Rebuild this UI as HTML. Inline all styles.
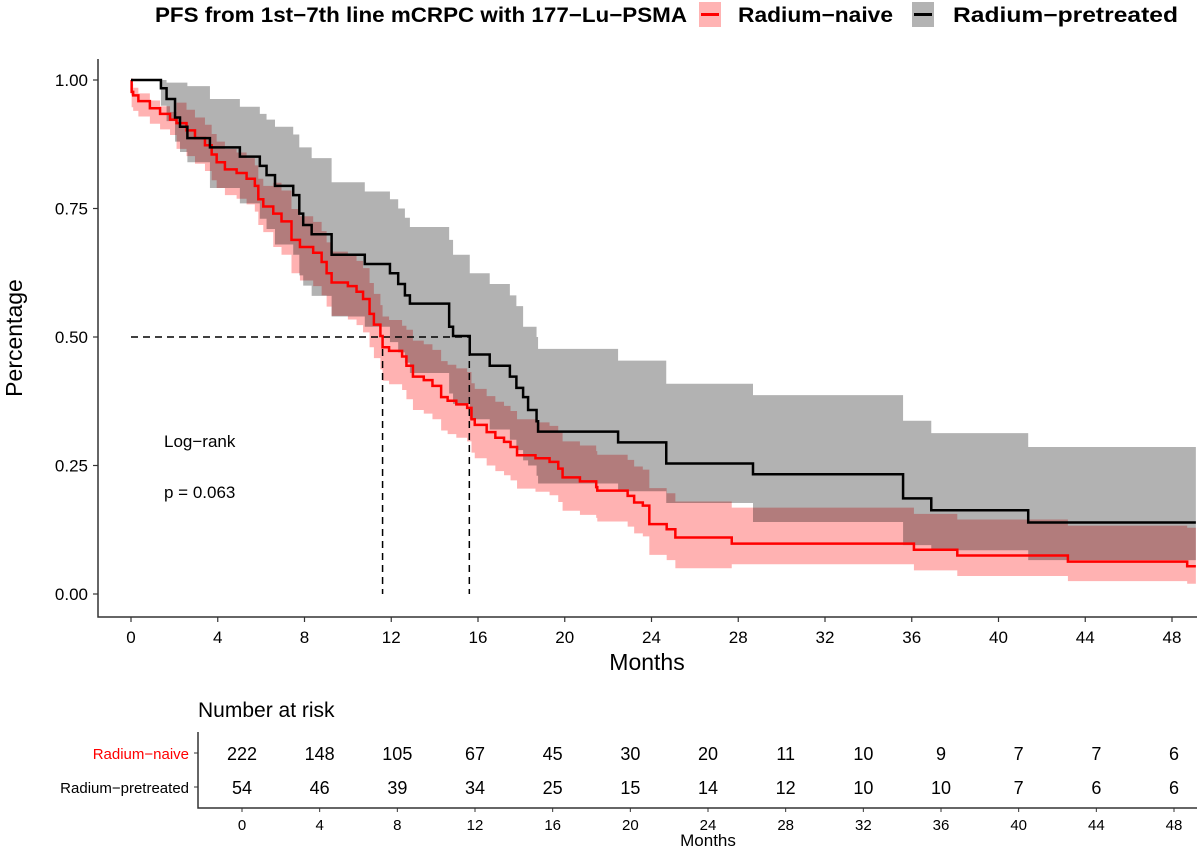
<!DOCTYPE html>
<html><head><meta charset="utf-8"><style>
body{margin:0;background:#fff}
svg{display:block;font-family:"Liberation Sans",sans-serif}
</style></head><body>
<svg id="chart" width="1200" height="851" viewBox="0 0 1200 851" xmlns="http://www.w3.org/2000/svg">
<g>
<text x="155" y="22" font-size="21" font-weight="bold" textLength="532" lengthAdjust="spacingAndGlyphs">PFS from 1st−7th line mCRPC with 177−Lu−PSMA</text>
<g><rect x="699" y="2" width="22" height="25" fill="#ffb3b3"/><line x1="701" y1="14.5" x2="719" y2="14.5" stroke="#f00" stroke-width="3"/>
<text x="738" y="22" font-size="21" font-weight="bold" textLength="155" lengthAdjust="spacingAndGlyphs">Radium−naive</text></g>
<g><rect x="912" y="2" width="22" height="25" fill="#b3b3b3"/><line x1="914" y1="14.5" x2="932" y2="14.5" stroke="#000" stroke-width="3"/>
<text x="953" y="22" font-size="21" font-weight="bold" textLength="225" lengthAdjust="spacingAndGlyphs">Radium−pretreated</text></g>
</g>
<g id="plot"></g>
<g id="axes"></g>
<text x="22" y="338" font-size="23" text-anchor="middle" transform="rotate(-90 22 338)">Percentage</text>
<text x="647" y="670" font-size="23" text-anchor="middle">Months</text>
<text x="164" y="447" font-size="17">Log−rank</text>
<text x="164" y="498" font-size="17">p = 0.063</text>
<text x="198" y="717" font-size="21">Number at risk</text>
<g id="risk"></g>
<text x="708" y="846" font-size="17" text-anchor="middle">Months</text>
</svg>
<script>
const ticksX = [0,4,8,12,16,20,24,28,32,36,40,44,48];
const ticksY = [0,0.25,0.5,0.75,1.0];
const tickYLabels = ["0.00","0.25","0.50","0.75","1.00"];
const naiveTimes = [0,0.03,0.1,0.34,0.87,1.34,1.8,2.1,2.56,2.95,3.41,3.72,3.95,4.33,4.87,5.33,5.71,5.87,6.1,6.56,6.94,7.4,7.79,8.4,8.79,9.02,9.25,10.0,10.4,10.7,11.0,11.2,11.5,11.6,11.9,12.5,12.7,13.0,13.5,13.9,14.3,14.6,15.0,15.5,15.7,15.85,16.4,16.8,17.2,17.5,17.8,18.65,19.3,19.7,19.9,20.7,21.45,21.5,22.9,23.2,23.6,23.9,24.7,25.1,27.7,36.1,38.1,43.2,48.7];
const naiveSurv = [1.0,0.977,0.970,0.959,0.945,0.934,0.923,0.916,0.902,0.887,0.873,0.855,0.840,0.826,0.819,0.808,0.794,0.768,0.754,0.740,0.725,0.689,0.675,0.664,0.646,0.624,0.606,0.599,0.588,0.574,0.545,0.524,0.502,0.48,0.473,0.462,0.444,0.423,0.416,0.405,0.383,0.376,0.369,0.362,0.34,0.329,0.315,0.304,0.296,0.286,0.27,0.264,0.257,0.244,0.227,0.219,0.208,0.201,0.191,0.178,0.172,0.136,0.126,0.11,0.098,0.086,0.075,0.063,0.054];
const naiveUpper = [1.0,0.992,0.985,0.974,0.96,0.949,0.938,0.956,0.942,0.927,0.913,0.895,0.88,0.866,0.859,0.848,0.834,0.808,0.794,0.80,0.785,0.749,0.735,0.724,0.706,0.684,0.666,0.659,0.648,0.634,0.605,0.584,0.562,0.54,0.533,0.522,0.514,0.493,0.486,0.475,0.453,0.446,0.439,0.432,0.41,0.399,0.385,0.374,0.366,0.356,0.34,0.334,0.327,0.314,0.297,0.289,0.278,0.271,0.261,0.248,0.242,0.206,0.196,0.18,0.168,0.156,0.145,0.133,0.129];
const naiveLower = [0.97,0.947,0.94,0.929,0.915,0.904,0.893,0.866,0.852,0.837,0.823,0.805,0.79,0.776,0.769,0.758,0.744,0.718,0.704,0.675,0.66,0.624,0.61,0.599,0.581,0.559,0.541,0.534,0.523,0.509,0.48,0.459,0.437,0.415,0.408,0.397,0.379,0.358,0.351,0.34,0.318,0.311,0.304,0.297,0.275,0.264,0.25,0.239,0.231,0.221,0.205,0.199,0.192,0.179,0.162,0.154,0.148,0.141,0.131,0.118,0.112,0.076,0.066,0.05,0.058,0.046,0.035,0.025,0.02];
const preTimes = [0,1.38,1.64,2.03,2.26,2.6,3.64,5.02,5.94,6.25,6.64,7.48,7.76,7.94,8.33,9.25,10.78,11.94,12.32,12.63,12.86,14.67,14.85,15.62,16.54,17.47,17.77,18.08,18.31,18.7,18.77,22.46,24.68,28.68,35.6,36.9,41.37];
const preSurv = [1.0,0.984,0.963,0.927,0.909,0.887,0.869,0.851,0.833,0.815,0.794,0.776,0.74,0.718,0.70,0.66,0.642,0.624,0.603,0.581,0.565,0.52,0.502,0.466,0.444,0.423,0.401,0.383,0.358,0.336,0.316,0.295,0.254,0.233,0.186,0.163,0.139];
const preUpper = [1.0,1.0,0.995,0.995,0.995,0.988,0.963,0.948,0.934,0.923,0.909,0.894,0.869,0.869,0.848,0.801,0.783,0.768,0.75,0.732,0.714,0.689,0.66,0.624,0.603,0.581,0.56,0.52,0.52,0.50,0.477,0.454,0.409,0.387,0.337,0.313,0.286];
const preLower = [1.0,0.95,0.92,0.88,0.86,0.84,0.79,0.76,0.73,0.71,0.68,0.66,0.62,0.60,0.58,0.54,0.52,0.49,0.47,0.45,0.43,0.39,0.37,0.34,0.32,0.30,0.28,0.26,0.25,0.23,0.215,0.20,0.177,0.14,0.095,0.085,0.066];
const medians = [11.6,15.6];
const riskNaive = [222,148,105,67,45,30,20,11,10,9,7,7,6];
const riskPre = [54,46,39,34,25,15,14,12,10,10,7,6,6];
const tMax = 49.1;

const NS="http://www.w3.org/2000/svg";
const X0=131, X48=1172, Y1=80, Y0=594;
function xs(t){return X0+(X48-X0)*t/48;}
function ys(s){return Y0-(Y0-Y1)*s;}
const RX0=242, RX48=1174;
function rx(t){return RX0+(RX48-RX0)*t/48;}
function mk(tag,attrs,parent){const e=document.createElementNS(NS,tag);for(const k in attrs)e.setAttribute(k,attrs[k]);parent.appendChild(e);return e;}
function stepPath(times,vals){let d="M"+xs(times[0])+","+ys(vals[0]);for(let i=1;i<times.length;i++){d+="H"+xs(times[i])+"V"+ys(vals[i]);}d+="H"+xs(tMax);return d;}
function bandPath(times,up,lo){let d="M"+xs(times[0])+","+ys(up[0]);for(let i=1;i<times.length;i++){d+="H"+xs(times[i])+"V"+ys(up[i]);}d+="H"+xs(tMax)+"V"+ys(lo[lo.length-1]);for(let i=times.length-1;i>=1;i--){d+="H"+xs(times[i])+"V"+ys(lo[i-1]);}d+="H"+xs(times[0])+"Z";return d;}
const plot=document.getElementById('plot');
const b1=mk('path',{d:bandPath(naiveTimes,naiveUpper,naiveLower),fill:"#ff0000","fill-opacity":"0.3"},plot);


const b2=mk('path',{d:bandPath(preTimes,preUpper,preLower),fill:"#000000","fill-opacity":"0.3"},plot);


const m=mk('path',{d:"M"+xs(0)+","+ys(0.5)+"H"+xs(medians[1])+"M"+xs(medians[0])+","+ys(0.5)+"V"+ys(0)+"M"+xs(medians[1])+","+ys(0.5)+"V"+ys(0),stroke:"#000","stroke-width":"1.5","stroke-dasharray":"7,5",fill:"none"},plot);


const l1=mk('path',{d:stepPath(naiveTimes,naiveSurv),stroke:"#ff0000","stroke-width":"2.5",fill:"none"},plot);


const l2=mk('path',{d:stepPath(preTimes,preSurv),stroke:"#000","stroke-width":"2.5",fill:"none"},plot);


const ax=document.getElementById('axes');
const xa=mk('path',{d:"M98,59V617H1197",stroke:"#333","stroke-width":"1.5",fill:"none"},ax);


ticksY.forEach((v,i)=>{
 mk('line',{x1:93,x2:98,y1:ys(v),y2:ys(v),stroke:"#333","stroke-width":"1.2"},ax);
 const t=mk('text',{x:88,y:ys(v)+6,"font-size":"17","text-anchor":"end"},ax);
 t.textContent=tickYLabels[i];
 
 
});
ticksX.forEach(v=>{
 mk('line',{x1:xs(v),x2:xs(v),y1:617,y2:622,stroke:"#333","stroke-width":"1.2"},ax);
 const t=mk('text',{x:xs(v),y:643,"font-size":"17","text-anchor":"middle"},ax);
 t.textContent=v;
 
 
});
const rk=document.getElementById('risk');
mk('path',{d:"M198,732V808H1197",stroke:"#333","stroke-width":"1.5",fill:"none"},rk);
[[753,"Radium−naive","#ff0000",riskNaive],[787,"Radium−pretreated","#000",riskPre]].forEach(r=>{
 mk('line',{x1:194,x2:198,y1:r[0],y2:r[0],stroke:"#333"},rk);
 const lab=mk('text',{x:189,y:r[0]+6,"font-size":"15","text-anchor":"end",fill:r[2]},rk);
 lab.textContent=r[1];
 
 
 r[3].forEach((n,i)=>{
  const t=mk('text',{x:rx(ticksX[i]),y:r[0]+7,"font-size":"18","text-anchor":"middle"},rk);
  t.textContent=n;
  
  
 });
});
ticksX.forEach(v=>{
 mk('line',{x1:rx(v),x2:rx(v),y1:808,y2:812,stroke:"#333"},rk);
 const t=mk('text',{x:rx(v),y:830,"font-size":"15","text-anchor":"middle"},rk);
 t.textContent=v;
 
 
});
</script>
</body></html>
